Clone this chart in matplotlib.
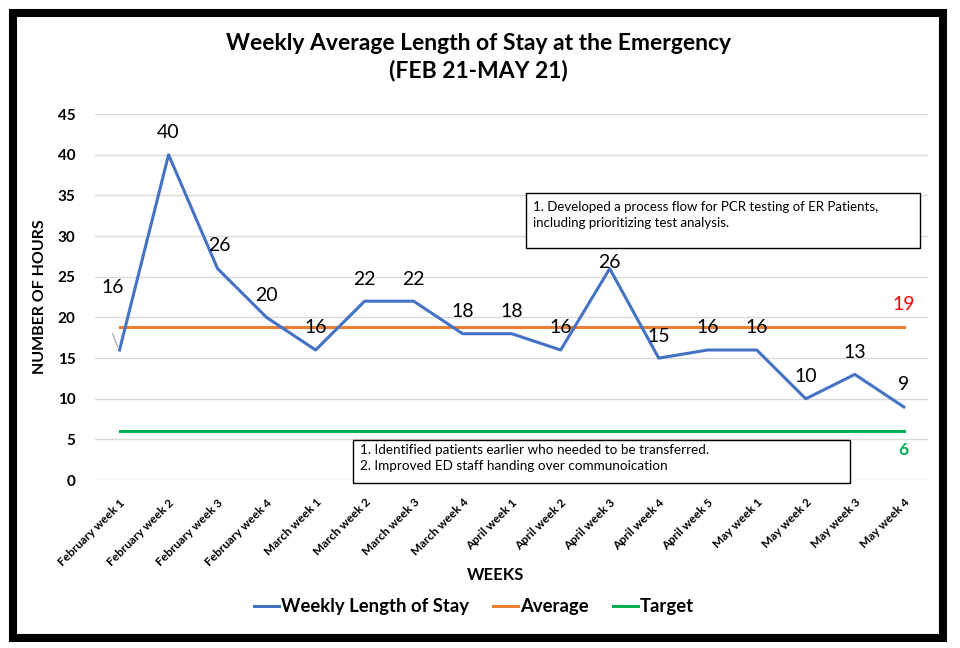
import numpy as np
import matplotlib
matplotlib.use("Agg")
import matplotlib.pyplot as plt
from matplotlib.patches import Rectangle

plt.rcParams["font.family"] = ["Lato", "DejaVu Sans"]

# -----------------------------
# Data
# -----------------------------
weeks = ["February week 1", "February week 2", "February week 3", "February week 4",
         "March week 1", "March week 2", "March week 3", "March week 4",
         "April week 1", "April week 2", "April week 3", "April week 4", "April week 5",
         "May week 1", "May week 2", "May week 3", "May week 4"]
los = [16, 40, 26, 20, 16, 22, 22, 18, 18, 16, 26, 15, 16, 16, 10, 13, 9]
target = 6
average = np.mean(los)

note_top = ("1. Developed a process flow for PCR testing of ER Patients,\n"
            "including prioritizing test analysis.")
note_bottom = ("1. Identified patients earlier who needed to be transferred.\n"
               "2. Improved ED staff handing over communoication")

BLUE = "#4472C4"
ORANGE = "#ED7D31"
GREEN = "#00B050"

x = np.arange(len(weeks))

# -----------------------------
# Figure
# -----------------------------
fig = plt.figure(figsize=(9.6, 6.48), dpi=100)
ax = fig.add_axes([0.099, 0.259, 0.868, 0.565])

ax.plot(x, los, color=BLUE, lw=2.2, label="Weekly Length of Stay", zorder=3)
ax.plot(x, [average]*len(x), color=ORANGE, lw=2.2, label="Average", zorder=2)
ax.plot(x, [target]*len(x), color=GREEN, lw=2.2, label="Target", zorder=2)

# data labels (pixel offsets above the points)
offsets = {0: (-7, 62), 2: (2, 23), 10: (0, 6)}
for i, v in enumerate(los):
    dx, dy = offsets.get(i, (0, 22))
    ax.annotate(str(v), (x[i], v), xytext=(dx, dy), textcoords="offset pixels",
                ha="center", va="center", fontsize=14, color="black", zorder=5)
# leader line for first label
ax.annotate("", (x[0] - 0.02, los[0] + 0.1), xytext=(-7, 18), textcoords="offset pixels",
            arrowprops=dict(arrowstyle="-", color="#A6A6A6", lw=0.9))

ax.annotate(f"{average:.0f}", (x[-1], average), xytext=(0, 23), textcoords="offset pixels",
            ha="center", va="center", fontsize=14, color="red")
ax.annotate(f"{target}", (x[-1], target), xytext=(0, -19), textcoords="offset pixels",
            ha="center", va="center", fontsize=12.5, color=GREEN, fontweight="bold")

ax.set_xlim(-0.5, len(x) - 0.5)
ax.set_ylim(0, 45)
ax.set_yticks(np.arange(0, 46, 5))
ax.set_xticks(x)
ax.set_xticklabels(weeks, rotation=45, ha="right", rotation_mode="anchor",
                   fontsize=8.6, fontweight="bold")
for lab in ax.get_yticklabels():
    lab.set_fontweight("bold")
    lab.set_fontsize(11)
ax.tick_params(length=0)
ax.tick_params(axis="y", pad=14)
ax.tick_params(axis="x", pad=12)
ax.grid(axis="y", color="#D9D9D9", lw=1)
ax.set_axisbelow(True)
for sp in ax.spines.values():
    sp.set_visible(False)

ax.set_ylabel("NUMBER OF HOURS", fontsize=11.5, fontweight="bold", labelpad=8)

# note boxes
ax.add_patch(Rectangle((0.517, 0.635), 0.473, 0.15, transform=ax.transAxes,
                       facecolor="white", edgecolor="black", lw=1.0, zorder=4))
ax.text(0.526, 0.763, note_top, transform=ax.transAxes, ha="left", va="top",
        fontsize=9.5, linespacing=1.45, zorder=5)
ax.add_patch(Rectangle((0.309, -0.008), 0.597, 0.118, transform=ax.transAxes,
                       facecolor="white", edgecolor="black", lw=1.0, zorder=4,
                       clip_on=False))
ax.text(0.318, 0.1, note_bottom, transform=ax.transAxes, ha="left", va="top",
        fontsize=9.7, linespacing=1.4, zorder=5)

fig.text(0.498, 0.912, "Weekly Average Length of Stay at the Emergency\n(FEB 21-MAY 21)",
         ha="center", va="center", fontsize=16.5, fontweight="bold", linespacing=1.3)
fig.text(0.516, 0.112, "WEEKS", ha="center", va="center", fontsize=12, fontweight="bold")

leg = fig.legend(loc="center", bbox_to_anchor=(0.494, 0.064), ncol=3, frameon=False,
                 handlelength=1.35, handletextpad=0.12, columnspacing=1.3,
                 prop={"weight": "bold", "size": 13.3})

# outer frame
fig.add_artist(Rectangle((13/960, 10/648), 930/960, 625/648, transform=fig.transFigure,
                         fill=False, edgecolor="black", lw=5.8))

fig.savefig("out.png", dpi=100)
